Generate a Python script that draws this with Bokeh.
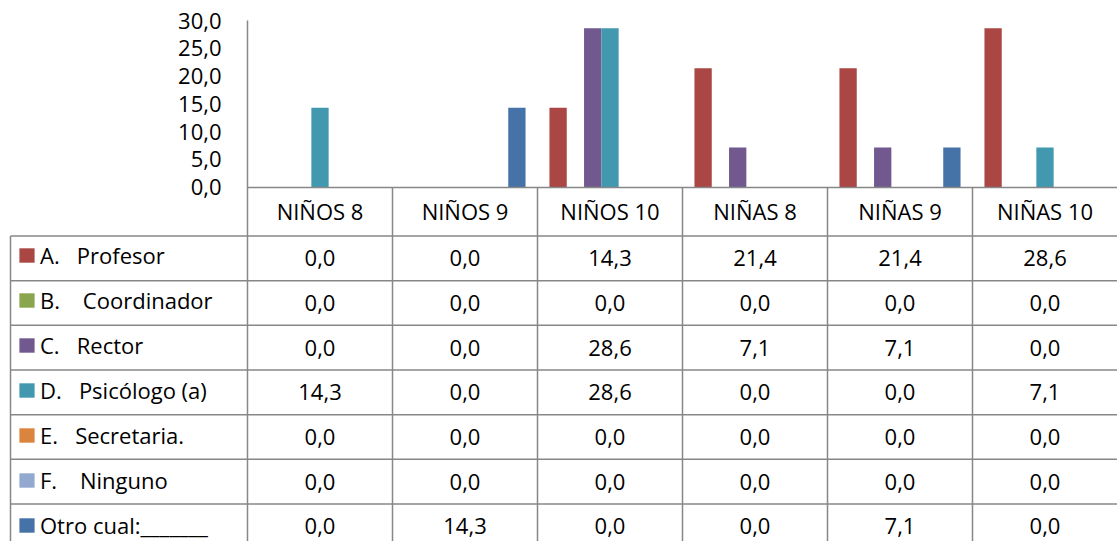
from bokeh.plotting import figure
from bokeh.models import (ColumnDataSource, Range1d, FixedTicker, Legend, LegendItem)
from bokeh.transform import dodge
from bokeh.core.properties import value
from bokeh.embed import file_html
from bokeh.resources import INLINE

# ---- data ----
categories = ["NIÑOS 8", "NIÑOS 9", "NIÑOS 10", "NIÑAS 8", "NIÑAS 9", "NIÑAS 10"]
series_names = ["A.\u00a0\u00a0\u00a0Profesor", "B.\u00a0\u00a0\u00a0\u00a0Coordinador", "C.\u00a0\u00a0\u00a0Rector",
                "D.\u00a0\u00a0\u00a0Psicólogo (a)", "E.\u00a0\u00a0\u00a0Secretaria.", "F.\u00a0\u00a0\u00a0\u00a0Ninguno",
                "Otro cual:_______"]
profesor = [0.0, 0.0, 14.3, 21.4, 21.4, 28.6]
coordinador = [0.0, 0.0, 0.0, 0.0, 0.0, 0.0]
rector = [0.0, 0.0, 28.6, 7.1, 7.1, 0.0]
psicologo = [14.3, 0.0, 28.6, 0.0, 0.0, 7.1]
secretaria = [0.0, 0.0, 0.0, 0.0, 0.0, 0.0]
ninguno = [0.0, 0.0, 0.0, 0.0, 0.0, 0.0]
otro = [0.0, 14.3, 0.0, 0.0, 7.1, 0.0]
y_ticks = [0, 5, 10, 15, 20, 25, 30]
y_tick_labels = ["0,0", "5,0", "10,0", "15,0", "20,0", "25,0", "30,0"]

series_values = [profesor, coordinador, rector, psicologo, secretaria, ninguno, otro]
colors = ["#AA4643", "#89A54E", "#71588F", "#4198AF", "#DB843D", "#93A9CF", "#4572A7"]

FONT = "Open Sans"
FS = "22px"
GRAY = "#878787"

# ---- layout geometry (pixels) ----
W, H = 1117, 541
AXIS_X = 247                 # y axis / first data column border
COLW = (W - AXIS_X) / 6.0    # px per category column
x_start = -AXIS_X / COLW
TOP = 20                     # px of value 30
ZERO = 186.5                 # px of value 0
ppu = (ZERO - TOP) / 30.0
y_start = -(H - ZERO) / ppu
y_end = 30 + TOP / ppu
TBL_TOP = 235.5              # table top border
ROWH = 44.67
tbl_start = (H - TBL_TOP) / ROWH
tbl_end = -TBL_TOP / ROWH

p = figure(width=W, height=H, output_backend="svg", toolbar_location=None,
           x_range=Range1d(x_start, 6), y_range=Range1d(y_start, y_end),
           min_border=0, min_border_left=0, min_border_right=0,
           min_border_top=0, min_border_bottom=0)
p.extra_y_ranges = {"tbl": Range1d(tbl_start, tbl_end)}
p.outline_line_color = None
p.xgrid.visible = False
p.ygrid.visible = False
p.background_fill_color = "white"
p.border_fill_color = "white"

# ---- bars ----
xc = [i + 0.5 for i in range(len(categories))]
data = {"x": xc}
for k, vals in enumerate(series_values):
    data[f"s{k}"] = vals
src = ColumnDataSource(data)
bw = 0.1193
renderers = []
for k in range(len(series_values)):
    r = p.vbar(x=dodge("x", (k - 3) * bw, range=p.x_range), top=f"s{k}", bottom=0,
               width=bw, source=src, fill_color=colors[k], line_color=None)
    renderers.append(r)

# ---- axes ----
xa = p.xaxis[0]
xa.fixed_location = 0
xa.bounds = (0, 6)
xa.ticker = FixedTicker(ticks=xc)
xa.major_label_overrides = {x: c for x, c in zip(xc, categories)}
xa.axis_line_color = GRAY
xa.axis_line_width = 1.5
xa.major_tick_line_color = None
xa.minor_tick_line_color = None
xa.major_tick_out = 0
xa.major_tick_in = 0
xa.major_label_text_font = FONT
xa.major_label_text_font_size = FS
xa.major_label_text_color = "black"
xa.major_label_standoff = 9

ya = p.yaxis[0]
ya.fixed_location = 0
ya.bounds = (y_start, 30)
ya.ticker = FixedTicker(ticks=y_ticks)
ya.major_label_overrides = {t: l for t, l in zip(y_ticks, y_tick_labels)}
ya.axis_line_color = GRAY
ya.axis_line_width = 1.5
ya.major_tick_line_color = None
ya.minor_tick_line_color = None
ya.major_tick_out = 0
ya.major_tick_in = 0
ya.major_label_text_font = FONT
ya.major_label_text_font_size = FS
ya.major_label_text_color = "black"
ya.major_label_standoff = 26

# ---- table lines ----
left_x = x_start + 10 / COLW
nrows = len(series_values)
hk = list(range(nrows))
p.segment(x0=[left_x] * nrows, x1=[6] * nrows, y0=hk, y1=hk, y_range_name="tbl",
          line_color=GRAY, line_width=1.5)
vb = [1, 2, 3, 4, 5]
p.segment(x0=vb, x1=vb, y0=[0] * 5, y1=[y_start] * 5, line_color=GRAY, line_width=1.5)
p.segment(x0=[left_x], x1=[left_x], y0=[0], y1=[tbl_start], y_range_name="tbl",
          line_color=GRAY, line_width=1.5)

# ---- table values ----
tx, ty, tt = [], [], []
for k, vals in enumerate(series_values):
    for i, v in enumerate(vals):
        tx.append(xc[i])
        ty.append(k + 0.5)
        tt.append(f"{v:.1f}".replace(".", ","))
tsrc = ColumnDataSource(dict(x=tx, y=ty, t=tt))
p.text(x="x", y="y", text="t", source=tsrc, y_range_name="tbl",
       text_align="center", text_baseline="middle", text_font=value(FONT),
       text_font_size=FS, text_color="black")

# ---- legend as row labels ----
items = [LegendItem(label=n, renderers=[r]) for n, r in zip(series_names, renderers)]
leg = Legend(items=items, location=(17, 1), orientation="vertical",
             glyph_width=19, glyph_height=18, label_height=30, spacing=15,
             padding=0, margin=0, border_line_color=None, background_fill_alpha=0,
             label_text_font=FONT, label_text_font_size=FS, label_standoff=4,
             label_text_color="black")
p.add_layout(leg)

open("out.html", "w").write(file_html(p, INLINE))
